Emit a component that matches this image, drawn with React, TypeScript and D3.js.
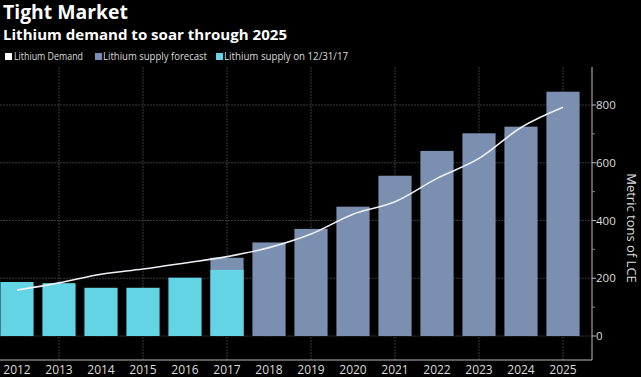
import React from "react";
import * as d3 from "d3";

const years = ["2012","2013","2014","2015","2016","2017","2018","2019","2020","2021","2022","2023","2024","2025"];
const supplyActualYears = ["2012","2013","2014","2015","2016","2017"];
const supplyActual = [187, 183, 167, 167, 202, 229];
const forecastYears = ["2017","2018","2019","2020","2021","2022","2023","2024","2025"];
const supplyForecast = [271, 324, 371, 448, 555, 641, 702, 725, 846];
const demand = [159, 184, 214, 232, 253, 275, 306, 353, 422, 465, 546, 615, 722, 792];
const yTicks = [0, 200, 400, 600, 800];
const yMinor = [100, 300, 500, 700];
const gridYears = ["2013","2015","2017","2019","2021","2023","2025"];

const W = 641, H = 377;
const plotTop = 67, plotBottom = 360, axisX = 592;
const CYAN = "#62d4e4";
const FORE = "#7b8fb0";

export default function App() {
  const x = d3.scaleBand<string>().domain(years).range([-4, 584]).paddingInner(0.21).paddingOuter(0.105);
  const y = d3.scaleLinear().domain([0, 800]).range([336, 105]);
  const cx = (yr: string) => (x(yr) as number) + x.bandwidth() / 2;
  const line = d3.line<number>().x((_, i) => cx(years[i])).y(d => y(d)).curve(d3.curveMonotoneX);

  return (
    <div style={{ position: "fixed", left: 0, top: 0 }}>
      <svg width={W} height={H} style={{ display: "block", background: "#000" }} fontFamily="'Open Sans', sans-serif">
        <rect width={W} height={H} fill="#000" />
        <text x={3} y={19} fill="#fff" fontSize={19} fontWeight="bold" textLength={125} lengthAdjust="spacingAndGlyphs">Tight Market</text>
        <text x={3} y={40} fill="#fff" fontSize={14.5} fontWeight="bold" textLength={284} lengthAdjust="spacingAndGlyphs">Lithium demand to soar through 2025</text>
        {/* legend */}
        <rect x={5} y={53} width={7} height={7} fill="#fff" />
        <text x={14} y={60} fill="#ddd" fontSize={11} textLength={69} lengthAdjust="spacingAndGlyphs">Lithium Demand</text>
        <rect x={95} y={53} width={7} height={7} fill={FORE} />
        <text x={103} y={60} fill="#ddd" fontSize={11} textLength={104} lengthAdjust="spacingAndGlyphs">Lithium supply forecast</text>
        <rect x={216} y={53} width={7} height={7} fill={CYAN} />
        <text x={224} y={60} fill="#ddd" fontSize={11} textLength={124} lengthAdjust="spacingAndGlyphs">Lithium supply on 12/31/17</text>

        {/* grid */}
        {yTicks.filter(t => t > 0).map(t => (
          <line key={"gy" + t} x1={0} x2={axisX} y1={y(t)} y2={y(t)} stroke="#3a3a3a" strokeWidth={1} strokeDasharray="2,1" />
        ))}
        {gridYears.map(g => (
          <line key={"gx" + g} x1={cx(g)} x2={cx(g)} y1={plotTop} y2={plotBottom} stroke="#3a3a3a" strokeWidth={1} strokeDasharray="2,1" />
        ))}
        <line x1={0} x2={axisX} y1={y(0)} y2={y(0)} stroke="#3a3a3a" strokeDasharray="2,1" />

        {/* bars */}
        {forecastYears.map((yr, i) => (
          <rect key={"f" + yr} x={x(yr)} width={x.bandwidth()} y={y(supplyForecast[i])} height={y(0) - y(supplyForecast[i])} fill={FORE} />
        ))}
        {supplyActualYears.map((yr, i) => (
          <rect key={"a" + yr} x={x(yr)} width={x.bandwidth()} y={y(supplyActual[i])} height={y(0) - y(supplyActual[i])} fill={CYAN} />
        ))}

        {/* demand line */}
        <path d={line(demand) || ""} fill="none" stroke="#eef0f6" strokeWidth={1.6} />

        {/* axes */}
        <line x1={0} x2={axisX} y1={plotBottom} y2={plotBottom} stroke="#bbb" strokeWidth={1} />
        <line x1={axisX} x2={axisX} y1={plotTop} y2={plotBottom} stroke="#bbb" strokeWidth={1} />
        {yTicks.map(t => (
          <g key={"t" + t}>
            <line x1={axisX} x2={axisX + 4} y1={y(t)} y2={y(t)} stroke="#bbb" />
            <text x={axisX + 4} y={y(t) + 4} fill="#ddd" fontSize={11.5}>{t}</text>
          </g>
        ))}
        {yMinor.map(t => (
          <line key={"m" + t} x1={axisX} x2={axisX + 3} y1={y(t)} y2={y(t)} stroke="#888" />
        ))}
        {years.map(yr => (
          <text key={"xl" + yr} x={cx(yr)} y={374} fill="#ddd" fontSize={12} textAnchor="middle">{yr}</text>
        ))}
        <text transform={`translate(627, ${228}) rotate(90)`} fill="#ddd" fontSize={13} textAnchor="middle">Metric tons of LCE</text>
      </svg>
    </div>
  );
}
